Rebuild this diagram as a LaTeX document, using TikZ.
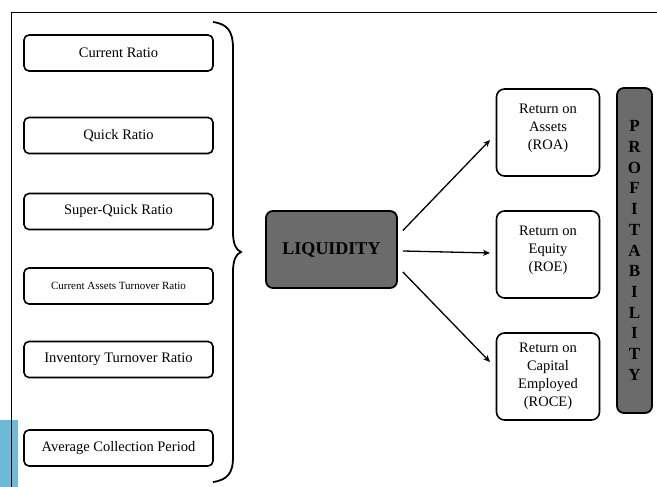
\documentclass[tikz,border=0pt]{standalone}
\usepackage{fontspec}
\setmainfont{Liberation Serif}
\usetikzlibrary{arrows.meta}

\definecolor{boxgray}{HTML}{6B6B6B}
\definecolor{sideblue}{HTML}{6DB9D8}

\begin{document}
\begin{tikzpicture}[x=1pt,y=-1pt,
    ratio/.style={draw, line width=1.6pt, rounded corners=5pt, minimum width=189pt, minimum height=36pt, inner sep=2pt, font=\fontsize{14.5}{16}\selectfont},
    ret/.style={draw, line width=1.6pt, rounded corners=8pt, minimum width=103pt, minimum height=87pt, align=center, font=\fontsize{14.5}{18}\selectfont},
    dark/.style={draw, line width=1.8pt, rounded corners=7pt, fill=boxgray}]
  \useasboundingbox (0,0) rectangle (657,487);
  % side strip and frame
  \fill[sideblue] (0,420) rectangle (18,487);
  \draw[line width=0.8pt] (657,12) -- (11,12) -- (11,487);

  % left column of ratios
  \node[ratio] (cr)  at (118.5,53)  {Current Ratio};
  \node[ratio] (qr)  at (118.5,135.5) {Quick Ratio};
  \node[ratio] (sqr) at (118.5,211.5) {Super-Quick Ratio};
  \node[ratio, font=\fontsize{11}{12}\selectfont] (cat) at (118.5,286) {Current Assets Turnover Ratio};
  \node[ratio] (itr) at (118.5,359.5) {Inventory Turnover Ratio};
  \node[ratio] (acp) at (118.5,448) {Average Collection Period};

  % brace
  \coordinate (tip) at (241,252);
  \draw[line width=1.8pt]
    (213,22) .. controls (228,24) and (233,32) .. (233,48)
    -- (233,232) .. controls (233,244) and (236,250) .. (tip)
    .. controls (236,254) and (233,260) .. (233,272)
    -- (233,458) .. controls (233,472) and (228,480) .. (213,482);

  % liquidity
  \node[dark, minimum width=131pt, minimum height=77pt, font=\fontsize{18}{20}\selectfont\bfseries] (liq) at (331.5,249.5) {LIQUIDITY};

  % returns
  \node[ret] (roa)  at (548,132.5) {Return on\\Assets\\(ROA)\\[-6pt]\mbox{}};
  \node[ret] (roe)  at (548,254.5) {Return on\\Equity\\(ROE)\\[-6pt]\mbox{}};
  \node[ret] (roce) at (548,376.5) {Return on\\Capital\\Employed\\(ROCE)};

  % profitability bar
  \node[dark, minimum width=35pt, minimum height=325pt, inner sep=0pt, align=center,
        font=\fontsize{17}{20.7}\selectfont\bfseries] (prof) at (634.5,250.5)
    {P\\R\\O\\F\\I\\T\\A\\B\\I\\L\\I\\T\\Y};

  % arrow ends
  \coordinate (e1) at (490,140);
  \coordinate (e2) at (490,253);
  \coordinate (e3) at (490,362);
  \path[-{Stealth[length=7pt,width=6pt]}, line width=1.3pt]
    ([xshift=5pt,yshift=19pt]liq.east) edge (e1)
    ([xshift=5pt,yshift=-1.5pt]liq.east) edge (e2)
    ([xshift=5pt,yshift=-22.5pt]liq.east) edge (e3);
\end{tikzpicture}
\end{document}
